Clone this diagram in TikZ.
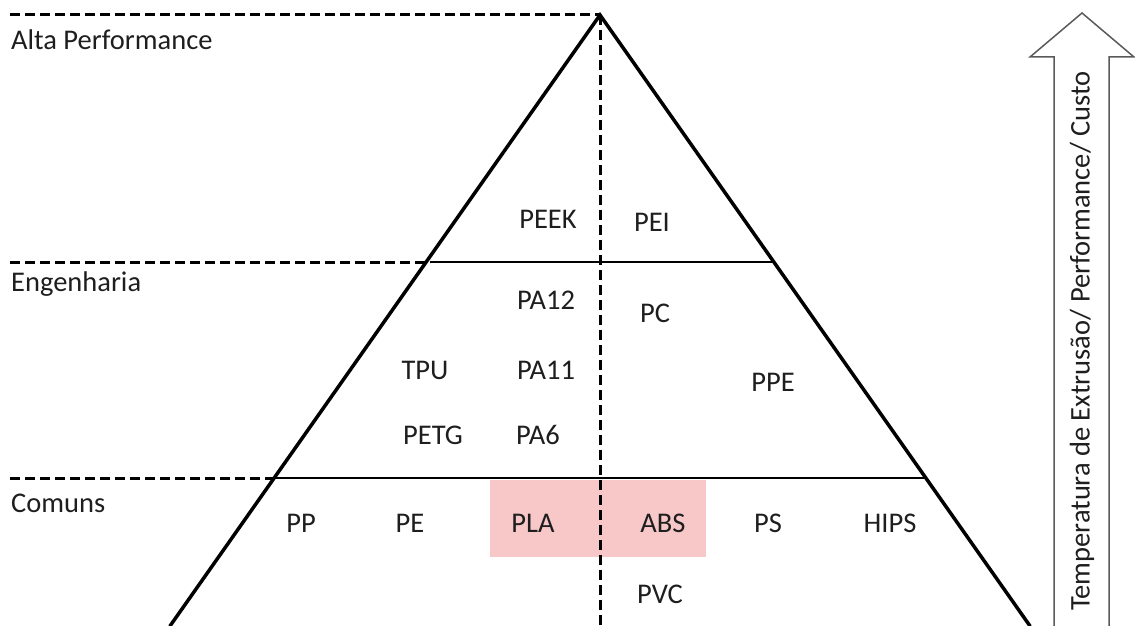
\documentclass[tikz,border=0pt]{standalone}
\usepackage{fontspec}
\setmainfont{Carlito}
\begin{document}
\begin{tikzpicture}[x=1pt,y=-1pt,
  lbl/.style={font=\fontsize{28.5}{34}\selectfont, inner sep=0pt, text={rgb,255:red,30;green,30;blue,30}},
  level/.style={lbl, anchor=west},
  side/.style={line width=3.5pt, line cap=round},
  tier/.style={line width=2.8pt},
  guide/.style={line width=3pt, dash pattern=on 10pt off 5pt}]
\useasboundingbox (0,0) rectangle (1135,626);

% pyramid corners and tier crossings
\coordinate (apex) at (600,15);
\coordinate (bl) at (170,626);
\coordinate (br) at (1030,626);
\coordinate (e1) at (430,262);
\coordinate (e2) at (772,262);
\coordinate (c1) at (274,478);
\coordinate (c2) at (926,478);
\coordinate (axisbot) at (600,626);
\coordinate (g0) at (10,15);
\coordinate (g1) at (10,262);
\coordinate (g2) at (10,478);

% highlighted pair
\fill[fill={rgb,255:red,248;green,200;blue,200}] (490,480) rectangle (706,557);

% guide lines to the level labels
\draw[guide] (g0) -- (apex);
\draw[guide] (g1) -- (e1);
\draw[guide] (g2) -- (c1);
\draw[guide] (apex) -- (axisbot);

% pyramid
\draw[side] (bl) -- (apex) -- (br);
\draw[tier] (e1) -- (e2);
\draw[tier] (c1) -- (c2);

% level names
\node[level] (alta) at (11,40) {Alta Performance};
\node[level] (eng) at (11,284) {Engenharia};
\node[level] (com) at (11,503) {Comuns};

% materials
\node[lbl] (peek) at (548,219) {PEEK};
\node[lbl] (pei)  at (652,222) {PEI};
\node[lbl] (pa12) at (546,300) {PA12};
\node[lbl] (pc)   at (655,313) {PC};
\node[lbl] (tpu)  at (425,370) {TPU};
\node[lbl] (pa11) at (546,370) {PA11};
\node[lbl] (ppe)  at (773,382) {PPE};
\node[lbl] (petg) at (433,435) {PETG};
\node[lbl] (pa6)  at (538,435) {PA6};
\node[lbl] (pp)   at (301,523) {PP};
\node[lbl] (pe)   at (410,523) {PE};
\node[lbl] (pla)  at (533,523) {PLA};
\node[lbl] (abs)  at (663,523) {ABS};
\node[lbl] (ps)   at (768,523) {PS};
\node[lbl] (hips) at (890,523) {HIPS};
\node[lbl] (pvc)  at (660,594) {PVC};

% trend arrow
\draw[line width=1.5pt, draw={rgb,255:red,90;green,90;blue,90}, fill=white]
  (1054,628) -- (1054,57) -- (1030,57) -- (1082,13) -- (1134,57) -- (1109,57) -- (1109,628);
\node[lbl, rotate=90] (trend) at (1082,341) {Temperatura de Extrusão/ Performance/ Custo};
\end{tikzpicture}
\end{document}
